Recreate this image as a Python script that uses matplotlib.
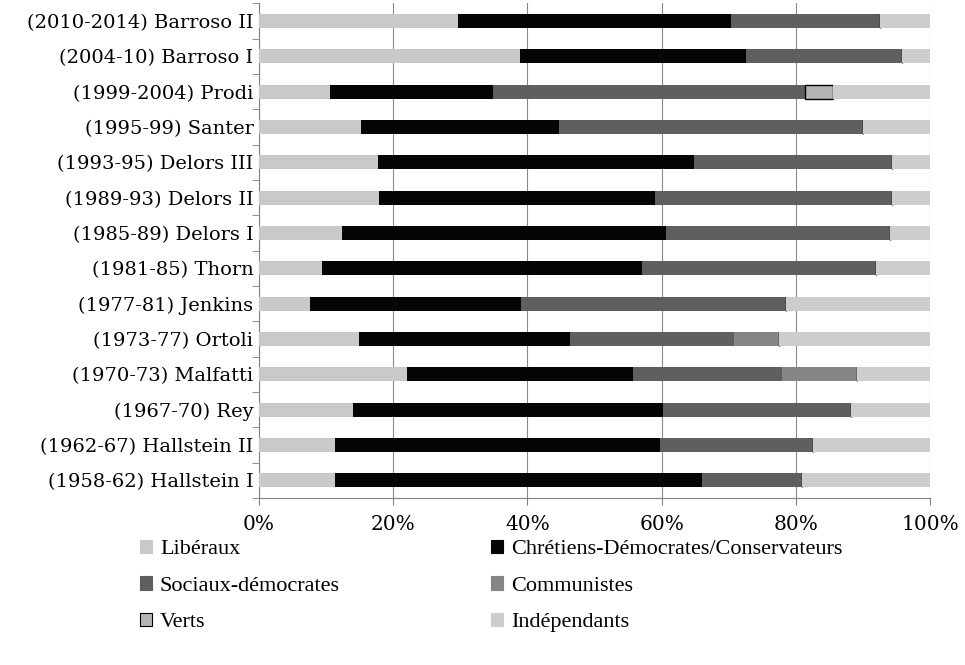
import numpy as np
import matplotlib.pyplot as plt
from matplotlib.patches import Patch

# --- data (shares in %, top to bottom as in the chart) ---
commissions = [
    "(2010-2014) Barroso II", "(2004-10) Barroso I", "(1999-2004) Prodi",
    "(1995-99) Santer", "(1993-95) Delors III", "(1989-93) Delors II",
    "(1985-89) Delors I", "(1981-85) Thorn", "(1977-81) Jenkins",
    "(1973-77) Ortoli", "(1970-73) Malfatti", "(1967-70) Rey",
    "(1962-67) Hallstein II", "(1958-62) Hallstein I",
]
liberaux = [29.7, 38.9, 10.6, 15.2, 17.7, 17.9, 12.4, 9.4, 7.6, 14.9, 22.1, 14.0, 11.4, 11.4]
chretiens = [40.6, 33.7, 24.2, 29.5, 47.2, 41.1, 48.2, 47.7, 31.4, 31.4, 33.6, 46.2, 48.4, 54.6]
sociaux = [22.3, 23.3, 46.5, 45.3, 29.4, 35.3, 33.4, 34.9, 39.5, 24.5, 22.3, 28.0, 22.7, 15.0]
communistes = [0, 0, 0, 0, 0, 0, 0, 0, 0, 6.7, 11.1, 0, 0, 0]
verts = [0, 0, 4.3, 0, 0, 0, 0, 0, 0, 0, 0, 0, 0, 0]
independants = [7.4, 4.1, 14.4, 10.0, 5.7, 5.7, 6.0, 8.0, 21.5, 22.5, 10.9, 11.8, 17.5, 19.0]

groups = ["Libéraux", "Chrétiens-Démocrates/Conservateurs", "Sociaux-démocrates",
          "Communistes", "Verts", "Indépendants"]
colors = ["#c9c9c9", "#050505", "#5f5f5f", "#858585", "#b4b4b4", "#cdcdcd"]
edges = ["none", "none", "none", "none", "black", "none"]

plt.rcParams['font.family'] = ['Liberation Serif', 'DejaVu Serif']

fig = plt.figure(figsize=(9.65, 6.65), dpi=100)
ax = fig.add_axes([0.2684, 0.2511, 0.6953, 0.744])

y = np.arange(len(commissions))
left = np.zeros(len(commissions))
for name, vals, c, ec in zip(groups, [liberaux, chretiens, sociaux, communistes, verts, independants],
                             colors, edges):
    vals = np.array(vals)
    ax.barh(y, vals, left=left, height=0.4, color=c, edgecolor=ec,
            linewidth=1.0 if ec != "none" else 0, zorder=3)
    left += vals

ax.set_xlim(0, 100)
ax.set_ylim(len(commissions) - 0.5, -0.5)
ax.set_xticks([0, 20, 40, 60, 80, 100])
ax.set_xticklabels([f"{v}%" for v in [0, 20, 40, 60, 80, 100]], fontsize=14.5,
                   family='DejaVu Serif')
ax.set_yticks(y)
ax.set_yticklabels(commissions, fontsize=14, family='DejaVu Serif')
ax.tick_params(axis='y', length=0, pad=4)
# category boundary ticks on y axis
ax.set_yticks(np.arange(len(commissions) + 1) - 0.5, minor=True)
ax.tick_params(axis='y', which='minor', length=5, color='#808080', direction='out')
ax.tick_params(axis='x', length=5, color='#808080', direction='out', pad=7)

ax.grid(axis='x', color='#8a8a8a', linewidth=0.8, zorder=0)
for s in ['top', 'right']:
    ax.spines[s].set_visible(False)
for s in ['left', 'bottom']:
    ax.spines[s].set_color('#808080')
    ax.spines[s].set_linewidth(0.8)

# legend: two columns, three rows
handles = [Patch(facecolor=c, edgecolor=('black' if ec != 'none' else c), linewidth=0.8)
           for c, ec in zip(colors, edges)]
order = [0, 2, 4, 1, 3, 5]
fig.legend([handles[i] for i in order], [groups[i] for i in order],
           ncol=2, loc='upper left', bbox_to_anchor=(0.1358, 0.2015),
           frameon=False, fontsize=16, handlelength=0.55, handleheight=0.55,
           handletextpad=0.35, columnspacing=6.8, labelspacing=0.755,
           borderaxespad=0)

fig.savefig("out.png", dpi=100)
